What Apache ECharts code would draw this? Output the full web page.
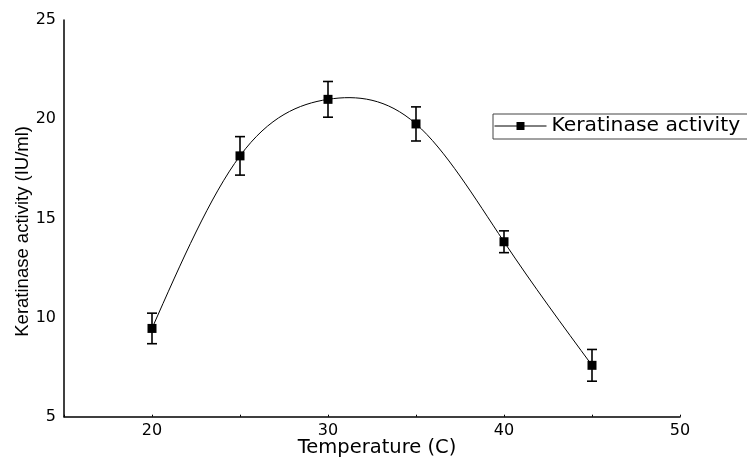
<!DOCTYPE html>
<html><head><meta charset="utf-8">
<script src="https://cdn.jsdelivr.net/npm/echarts@6/dist/echarts.min.js"></script>
<style>html,body{margin:0;padding:0;background:#fff}#c{width:747px;height:459px}</style>
</head><body><div id="c"></div>
<script>
const temperatures = [20, 25, 30, 35, 40, 45];
const activity = [9.45, 18.15, 21.0, 19.76, 13.82, 7.59];
const activityError = [0.77, 0.97, 0.9, 0.86, 0.55, 0.8];
const xTickLabels = [20, 30, 40, 50];
const yTickLabels = [5, 10, 15, 20, 25];
const seriesName = 'Keratinase activity';

const chart = echarts.init(document.getElementById('c'));
const points = temperatures.map((t, i) => [t, activity[i]]);
const errData = temperatures.map((t, i) => [t, activity[i] - activityError[i], activity[i] + activityError[i]]);

// natural cubic spline through the pixel positions of the data points
function splinePath(pts) {
  const n = pts.length;
  const xs = pts.map(p => p[0]), ys = pts.map(p => p[1]);
  const h = [];
  for (let i = 0; i < n - 1; i++) h.push(xs[i + 1] - xs[i]);
  const a = new Array(n).fill(0), b = new Array(n).fill(1), c = new Array(n).fill(0), d = new Array(n).fill(0);
  for (let i = 1; i < n - 1; i++) {
    a[i] = h[i - 1]; b[i] = 2 * (h[i - 1] + h[i]); c[i] = h[i];
    d[i] = 6 * ((ys[i + 1] - ys[i]) / h[i] - (ys[i] - ys[i - 1]) / h[i - 1]);
  }
  const cp = new Array(n).fill(0), dp = new Array(n).fill(0);
  cp[0] = c[0] / b[0]; dp[0] = d[0] / b[0];
  for (let i = 1; i < n; i++) {
    const m = b[i] - a[i] * cp[i - 1];
    cp[i] = c[i] / m; dp[i] = (d[i] - a[i] * dp[i - 1]) / m;
  }
  const M = new Array(n).fill(0);
  M[n - 1] = dp[n - 1];
  for (let i = n - 2; i >= 0; i--) M[i] = dp[i] - cp[i] * M[i + 1];
  const path = [['M', xs[0], ys[0]]];
  for (let i = 0; i < n - 1; i++) {
    const hi = h[i];
    const s0 = (ys[i + 1] - ys[i]) / hi - hi * (2 * M[i] + M[i + 1]) / 6;
    const s1 = (ys[i + 1] - ys[i]) / hi + hi * (M[i] + 2 * M[i + 1]) / 6;
    path.push(['C', xs[i] + hi / 3, ys[i] + s0 * hi / 3, xs[i + 1] - hi / 3, ys[i + 1] - s1 * hi / 3, xs[i + 1], ys[i + 1]]);
  }
  return path.map(s => s[0] + s.slice(1).map(v => v.toFixed(2)).join(' ')).join(' ');
}

chart.setOption({
  animation: false,
  grid: { left: 64, right: 67, top: 20, bottom: 42.3, outerBoundsMode: 'none', containLabel: false },
  legend: {
    data: [seriesName],
    left: 493, top: 114,
    orient: 'vertical',
    padding: [2, 8, 3, 1],
    borderColor: '#444', borderWidth: 1,
    itemWidth: 52, itemHeight: 10,
    lineStyle: { color: '#000', width: 1, opacity: 1 },
    textStyle: { fontFamily: 'DejaVu Sans', fontSize: 20.3, color: '#000' }
  },
  xAxis: {
    type: 'value', min: 15, max: 50, interval: 5,
    name: 'Temperature (C)', nameLocation: 'middle', nameGap: 21, nameMoveOverlap: false,
    nameTextStyle: { fontFamily: 'DejaVu Sans', fontSize: 19.5, color: '#000', padding: [0, 0, 0, 10] },
    axisLine: { lineStyle: { color: '#000', width: 1.5 } },
    axisTick: { show: true, inside: true, length: 2, lineStyle: { color: '#000' } },
    splitLine: { show: false },
    axisLabel: {
      margin: 6, color: '#000', fontFamily: 'DejaVu Sans', fontSize: 16,
      formatter: v => xTickLabels.includes(v) ? String(v) : ''
    }
  },
  yAxis: {
    type: 'value', min: 5, max: 25, interval: 5,
    name: 'Keratinase activity (IU/ml)', nameLocation: 'middle', nameGap: 32, nameRotate: 90, nameMoveOverlap: false,
    nameTextStyle: { fontFamily: 'Liberation Sans', fontSize: 18.5, color: '#000', padding: [0, 26, 0, 0] },
    axisLine: { show: true, lineStyle: { color: '#000', width: 1.5 } },
    axisTick: { show: false },
    splitLine: { show: false },
    axisLabel: {
      margin: 8, color: '#000', fontFamily: 'DejaVu Sans', fontSize: 16,
      formatter: v => yTickLabels.includes(v) ? String(v) : ''
    }
  },
  series: [
    {
      type: 'custom', data: [0], z: 2, silent: true,
      renderItem: (params, api) => {
        const px = points.map(p => api.coord(p));
        return { type: 'path', shape: { pathData: splinePath(px) }, style: { fill: 'none', stroke: '#000', lineWidth: 1 } };
      }
    },
    {
      name: seriesName, type: 'line', data: points,
      symbol: 'rect', symbolSize: 9,
      itemStyle: { color: '#000' },
      lineStyle: { color: '#000', width: 1, opacity: 0 },
      z: 3
    },
    {
      type: 'custom', data: errData, z: 4,
      renderItem: (params, api) => {
        const x = api.value(0);
        const lo = api.coord([x, api.value(1)]);
        const hi = api.coord([x, api.value(2)]);
        const hw = 5;
        const st = { stroke: '#000', lineWidth: 1.6 };
        return {
          type: 'group',
          children: [
            { type: 'line', shape: { x1: lo[0], y1: lo[1], x2: hi[0], y2: hi[1] }, style: st },
            { type: 'line', shape: { x1: lo[0] - hw, y1: lo[1], x2: lo[0] + hw, y2: lo[1] }, style: st },
            { type: 'line', shape: { x1: hi[0] - hw, y1: hi[1], x2: hi[0] + hw, y2: hi[1] }, style: st }
          ]
        };
      }
    }
  ]
});
</script></body></html>
